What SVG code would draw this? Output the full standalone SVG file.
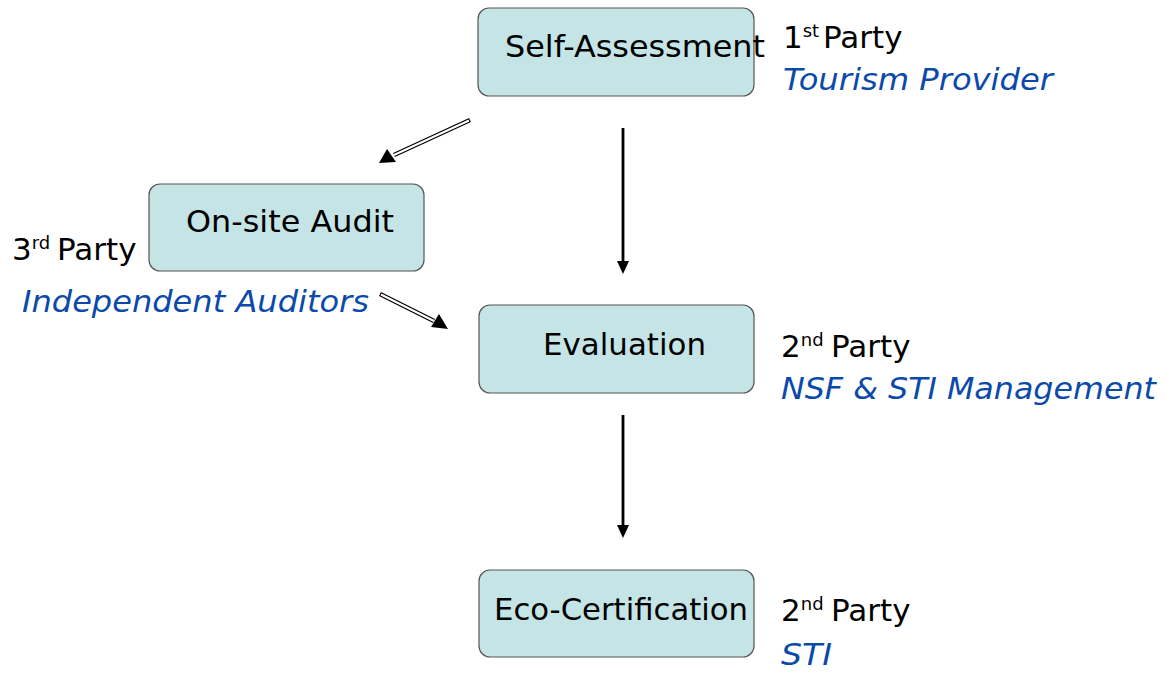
<svg xmlns="http://www.w3.org/2000/svg" width="1167" height="677" viewBox="0 0 1167 677">
  <style>
    .box { fill: #c4e4e6; stroke: #555; stroke-width: 1.2; }
    .lbl { font-family: "DejaVu Sans", "Liberation Sans", sans-serif; font-size: 31px; fill: #000; }
    .party { font-family: "DejaVu Sans", "Liberation Sans", sans-serif; font-size: 31px; fill: #000; }
    .sup { font-size: 18px; }
    .who { font-family: "DejaVu Sans", "Liberation Sans", sans-serif; font-size: 31px; font-style: italic; fill: #0b4aab; }
    .shaft-out { stroke: #000; stroke-width: 4.5; fill: none; }
    .shaft-in { stroke: #fff; stroke-width: 2; fill: none; }
    .solid { stroke: #000; stroke-width: 2.8; fill: none; }
  </style>
  <rect width="1167" height="677" fill="#fff"/>

  <g id="self-assessment">
    <rect class="box" x="478" y="8" width="276" height="88" rx="11"/>
    <text class="lbl" x="505" y="57" textLength="260" lengthAdjust="spacingAndGlyphs">Self-Assessment</text>
  </g>
  <g id="onsite-audit">
    <rect class="box" x="149" y="184" width="275" height="87" rx="11"/>
    <text class="lbl" x="186" y="232" textLength="208" lengthAdjust="spacingAndGlyphs">On-site Audit</text>
  </g>
  <g id="evaluation">
    <rect class="box" x="479" y="305" width="275" height="88" rx="11"/>
    <text class="lbl" x="543" y="355" textLength="163" lengthAdjust="spacingAndGlyphs">Evaluation</text>
  </g>
  <g id="eco-certification">
    <rect class="box" x="479" y="570" width="275" height="87" rx="11"/>
    <text class="lbl" x="494" y="620" textLength="254" lengthAdjust="spacingAndGlyphs">Eco-Certification</text>
  </g>

  <g id="party-labels">
    <text class="party" x="783" y="48">1<tspan class="sup" dy="-11">st</tspan><tspan dy="11" x="823">Party</tspan></text>
    <text class="who" x="783" y="90" textLength="270" lengthAdjust="spacingAndGlyphs">Tourism Provider</text>

    <text class="party" x="12" y="260">3<tspan class="sup" dy="-11">rd</tspan><tspan dy="11" x="57">Party</tspan></text>
    <text class="who" x="22" y="312" textLength="347" lengthAdjust="spacingAndGlyphs">Independent Auditors</text>

    <text class="party" x="781" y="357">2<tspan class="sup" dy="-11">nd</tspan><tspan dy="11" x="831">Party</tspan></text>
    <text class="who" x="781" y="399" textLength="375" lengthAdjust="spacingAndGlyphs">NSF &amp; STI Management</text>

    <text class="party" x="781" y="621">2<tspan class="sup" dy="-11">nd</tspan><tspan dy="11" x="831">Party</tspan></text>
    <text class="who" x="781" y="665" textLength="51" lengthAdjust="spacingAndGlyphs">STI</text>
  </g>

  <g id="connectors">
    <!-- hollow shaft: self-assessment to on-site audit -->
    <line class="shaft-out" x1="470" y1="120" x2="394" y2="155"/>
    <line class="shaft-in" x1="469" y1="120.5" x2="394" y2="155"/>
    <polygon points="379,163 387,149 396,162" fill="#000"/>
    <!-- hollow shaft: on-site audit to evaluation -->
    <line class="shaft-out" x1="380" y1="294" x2="434" y2="321"/>
    <line class="shaft-in" x1="381" y1="294.5" x2="434" y2="321"/>
    <polygon points="448,329 431,327 439,314" fill="#000"/>
    <!-- straight arrows down the middle -->
    <line class="solid" x1="623" y1="128" x2="623" y2="264"/>
    <polygon points="617,261 629,261 623,274" fill="#000"/>
    <line class="solid" x1="623" y1="415" x2="623" y2="528"/>
    <polygon points="617,525 629,525 623,538" fill="#000"/>
  </g>
</svg>
